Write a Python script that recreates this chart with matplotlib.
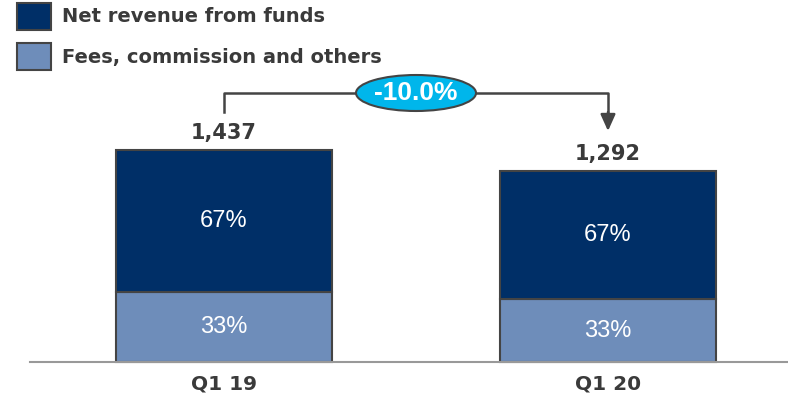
import matplotlib
matplotlib.use('Agg')
import matplotlib.pyplot as plt
from matplotlib.patches import Ellipse, Rectangle

# data
categories = ["Q1 19", "Q1 20"]
totals = [1437, 1292]
share_funds = [67, 67]
share_fees = [33, 33]
total_labels = ["1,437", "1,292"]
change_label = "-10.0%"
legend_labels = ["Net revenue from funds", "Fees, commission and others"]

c_funds = "#002f67"
c_fees = "#6e8dba"
c_edge = "#444444"
c_text = "#3a3a3a"
c_bubble = "#00b6eb"

fees = [t * s / 100 for t, s in zip(totals, share_fees)]
funds = [t - f for t, f in zip(totals, fees)]

W, H = 788, 401
fig = plt.figure(figsize=(W / 100, H / 100), dpi=100)
ax = fig.add_axes([0, 0, 1, 1])

# pixel mapping: bar centres at 224 / 608 px, baseline at 362 px from top
px_x = 384.0
base_px = H - 362
u = 1437 / 212.0  # data units per pixel
ax.set_xlim(-224 / px_x, (W - 224) / px_x)
ax.set_ylim(-base_px * u, (H - base_px) * u)
ax.axis('off')

x = list(range(len(categories)))
bw = 216 / px_x
ax.bar(x, fees, width=bw, color=c_fees, edgecolor=c_edge, linewidth=1.5, zorder=2)
ax.bar(x, funds, bottom=fees, width=bw, color=c_funds, edgecolor=c_edge, linewidth=1.5, zorder=2)

ax.axhline(0, xmin=30 / W, xmax=1, color="#999999", linewidth=1.5, zorder=3)

for i in x:
    ax.text(i, fees[i] / 2, f"{share_fees[i]}%", color="white", ha="center", va="center",
            fontsize=17, family="Liberation Sans", zorder=4)
    ax.text(i, fees[i] + funds[i] / 2, f"{share_funds[i]}%", color="white", ha="center",
            va="center", fontsize=17, family="Liberation Sans", zorder=4)
    ax.text(i, totals[i] + 17 * u, total_labels[i], color=c_text, ha="center",
            va="center", fontsize=15, fontweight="bold", zorder=4)
    ax.text(i, -22 * u, categories[i], color=c_text, ha="center", va="center",
            fontsize=14.5, fontweight="bold")

# bracket with change bubble
top = 269 * u
ax.plot([0, 0, 1, 1], [250 * u, top, top, 245 * u], color=c_edge, linewidth=1.8, zorder=3)
ax.annotate("", xy=(1, 231 * u), xytext=(1, 250 * u),
            arrowprops=dict(arrowstyle="-|>,head_length=1.0,head_width=0.45", color=c_edge,
                            lw=1.8, shrinkA=0, shrinkB=0), zorder=3)
ax.add_patch(Ellipse((0.5, top), 120 / px_x, 36 * u, facecolor=c_bubble,
                     edgecolor=c_edge, linewidth=1.5, zorder=4))
ax.text(0.5, top, change_label, color="white", ha="center", va="center", fontsize=19,
        fontweight="bold", family="Liberation Sans", zorder=5)

# legend
for j, (lab, col) in enumerate(zip(legend_labels, [c_funds, c_fees])):
    y0 = 1 - (30 + j * 40) / H
    fig.patches.append(Rectangle((17 / W, y0), 34 / W, 27 / H, transform=fig.transFigure,
                                 facecolor=col, edgecolor=c_edge, linewidth=1.5))
    fig.text(62 / W, y0 + 13 / H, lab, color=c_text, ha="left", va="center", fontsize=14,
             fontweight="bold")

fig.savefig("out.png", dpi=100)
